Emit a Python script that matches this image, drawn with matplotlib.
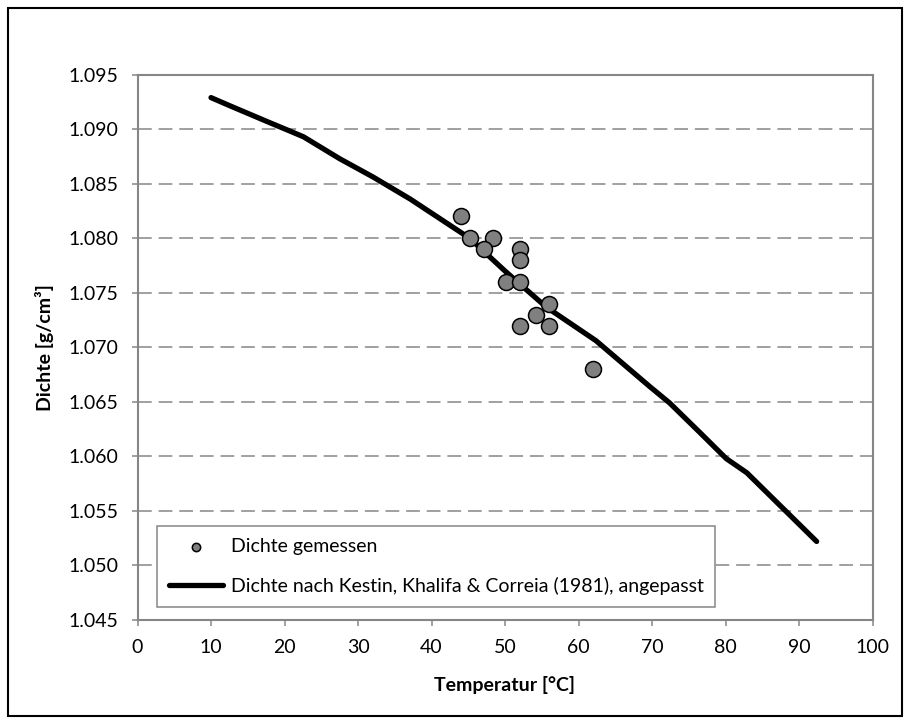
import matplotlib
matplotlib.use('Agg')
import matplotlib.pyplot as plt
from matplotlib.patches import Rectangle

plt.rcParams['font.family'] = ['Lato', 'DejaVu Sans']

# ===== Daten =====
temp_meas = [44, 45.3, 48.4, 47.1, 52, 52, 50.1, 52.1, 56, 54.2, 52, 56, 62]
dens_meas = [1.082, 1.080, 1.080, 1.079, 1.079, 1.078, 1.076, 1.076,
             1.074, 1.073, 1.072, 1.072, 1.068]

temp_kestin = [10, 12.4, 18, 20.5, 22.6, 27.5, 32.1, 37.1, 45.2, 50, 55.6,
               62.4, 69.7, 72.4, 76.5, 80.1, 82.9, 92.4]
dens_kestin = [1.0929, 1.0922, 1.0906, 1.0899, 1.0893, 1.0873, 1.0856, 1.0836, 1.0800,
               1.0770, 1.0737, 1.0706, 1.0664, 1.0649, 1.0622, 1.0598, 1.0585,
               1.0522]

x_ticks = [0, 10, 20, 30, 40, 50, 60, 70, 80, 90, 100]
y_ticks = [1.045, 1.050, 1.055, 1.060, 1.065, 1.070, 1.075, 1.080, 1.085, 1.090, 1.095]

GRAY = '#868686'

fig = plt.figure(figsize=(9.1, 7.24), dpi=100)
ax = fig.add_axes([137.5 / 910, 1 - 620 / 724, 735 / 910, 545.3 / 724])

# Rahmen um das ganze Bild
fig.patches.append(Rectangle((8 / 910, 8 / 724), 894 / 910, 708 / 724,
                             transform=fig.transFigure, fill=False,
                             edgecolor='black', linewidth=1.5))

ax.scatter(temp_meas, dens_meas, s=11.5 ** 2, c='#808080', edgecolors='black',
           linewidths=1.1, zorder=3, label='Dichte gemessen')
ax.plot(temp_kestin, dens_kestin, color='black', lw=3.8, solid_capstyle='round',
        zorder=2, label='Dichte nach Kestin, Khalifa & Correia (1981), angepasst')

ax.set_xlim(0, 100)
ax.set_ylim(1.045, 1.095)
ax.set_xticks(x_ticks)
ax.set_yticks(y_ticks)
ax.set_yticklabels([f'{v:.3f}' for v in y_ticks])

ax.yaxis.grid(True, color=GRAY, lw=1.1, dashes=(9, 4.5))
ax.set_axisbelow(True)

for s in ax.spines.values():
    s.set_color(GRAY)
    s.set_linewidth(1.5)
ax.tick_params(axis='both', colors=GRAY, labelcolor='black', labelsize=14,
               length=4.5, width=1.1, direction='out')
ax.tick_params(axis='y', pad=9)
ax.tick_params(axis='x', pad=9)

ax.set_xlabel('Temperatur [°C]', fontsize=14, fontweight='bold')
ax.set_ylabel('Dichte [g/cm³]', fontsize=14, fontweight='bold')
ax.xaxis.set_label_coords(0.5, -0.119)
ax.xaxis.label.set_va('center')
ax.yaxis.set_label_coords(-0.126, 0.5)
ax.yaxis.label.set_va('center')

leg = ax.legend(loc='lower left', bbox_to_anchor=((157 - 137.5) / 735, (620 - 606.7) / 545.3),
                fontsize=14, frameon=True, fancybox=False, framealpha=1,
                edgecolor=GRAY, borderpad=0.6, labelspacing=1.15,
                handlelength=2.8, handletextpad=0.4, borderaxespad=0)
leg.get_frame().set_linewidth(1.1)
leg.legend_handles[0].set_sizes([6 ** 2])

fig.savefig('out.png', dpi=100, facecolor='white')
